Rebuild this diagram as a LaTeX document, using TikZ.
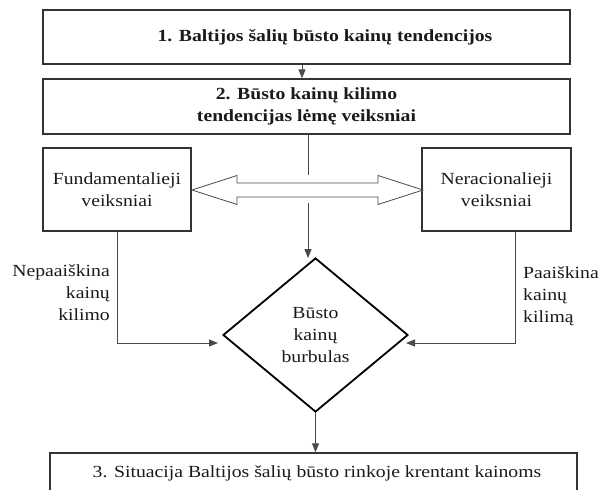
\documentclass[tikz,border=0pt]{standalone}
\usepackage{fontspec}
\setmainfont[FakeStretch=1.16]{Liberation Serif}
\usetikzlibrary{shapes.geometric,arrows.meta}
\definecolor{boxgray}{HTML}{333333}
\definecolor{linegray}{HTML}{4A4A4A}
\definecolor{txt}{HTML}{1A1A1A}
\begin{document}
\begin{tikzpicture}[x=1pt,y=-1pt,
  basefont/.style={font=\fontsize{17}{22}\selectfont, text=txt},
  box/.style={basefont, draw=boxgray, line width=1.3pt, rectangle, inner sep=0pt, align=center},
  boldbox/.style={box, font=\fontsize{17}{22}\selectfont\bfseries},
  conn/.style={draw=linegray, line width=1pt},
  tip/.style={-{Triangle[length=9pt,width=7pt]}},
  lbl/.style={basefont, inner sep=0pt}]
\useasboundingbox (0,0) rectangle (603,490);
\clip (0,0) rectangle (603,490);

\node[boldbox, minimum width=527pt, minimum height=54pt] (b1) at (306.5,37)
  {\hspace*{37pt}1. Baltijos šalių būsto kainų tendencijos};
\node[boldbox, minimum width=527pt, minimum height=55pt] (b2) at (306.5,106.5)
  {2. Būsto kainų kilimo\\tendencijas lėmę veiksniai};
\node[box, minimum width=148pt, minimum height=83pt] (lb) at (117,189.5)
  {Fundamentalieji\\veiksniai};
\node[box, minimum width=149pt, minimum height=83pt] (rb) at (496.5,189.5)
  {Neracionalieji\\veiksniai};
\node[basefont, diamond, draw=black, line width=1.8pt, inner sep=0pt,
  minimum width=185pt, minimum height=154pt, align=center] (dm) at (315.5,335)
  {Būsto\\kainų\\burbulas};
\node[box, minimum width=527pt, minimum height=40pt] (b3) at (313.5,473)
  {\hspace*{7pt}3. Situacija Baltijos šalių būsto rinkoje krentant kainoms};

\node[lbl, anchor=east, align=right] (ln) at (110,293) {Nepaaiškina\\kainų\\kilimo};
\node[lbl, anchor=west, align=left] (rn) at (523,296) {Paaiškina\\kainų\\kilimą};

\coordinate (vtop) at (308,175);
\coordinate (vgap) at (308,203);
\coordinate (lin) at (218,343);
\coordinate (rin) at (406,343);

% connectors
\draw[conn,tip] ([xshift=-4.5pt]b1.south) -- ([xshift=-4.5pt]b2.north);
\draw[conn] ([xshift=1.5pt]b2.south) -- (vtop);
\draw[conn,tip] (vgap) -- ([yshift=-1pt]vgap |- dm.north);
\draw[conn,tip] (lb.south) |- (lin);
\draw[conn,tip] ([xshift=18.5pt]rb.south) |- (rin);
\draw[conn,tip] (dm.south) -- (dm.south |- b3.north);

% double arrow
\draw[draw=linegray, line width=0.8pt, fill=white]
  (192,190) -- (237,175.5) -- (237,183) -- (378,183) -- (378,175.5) -- (423,190)
  -- (378,204.5) -- (378,197) -- (237,197) -- (237,204.5) -- cycle;
\end{tikzpicture}
\end{document}
